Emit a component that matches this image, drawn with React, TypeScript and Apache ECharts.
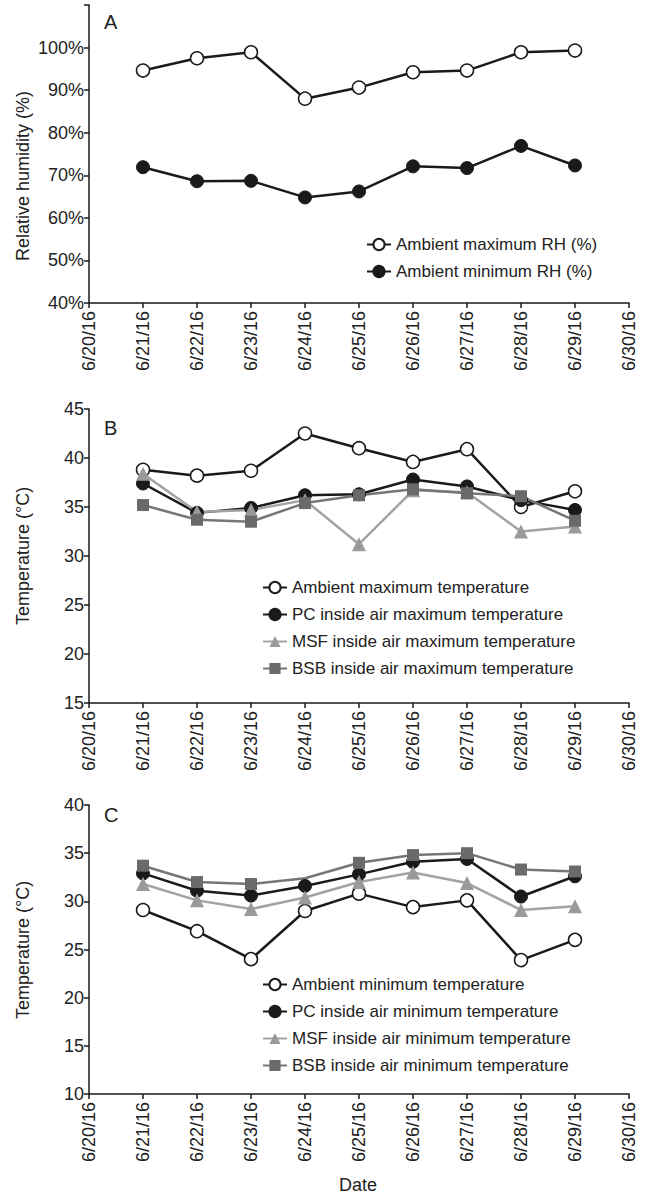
import React, { useEffect, useRef } from 'react';
import * as echarts from 'echarts';

const dates = ['6/20/16', '6/21/16', '6/22/16', '6/23/16', '6/24/16', '6/25/16', '6/26/16', '6/27/16', '6/28/16', '6/29/16', '6/30/16'];

// Panel A – relative humidity (%)
const rhMax = [null, 94.6, 97.5, 98.9, 88.0, 90.6, 94.2, 94.6, 98.9, 99.3, null];
const rhMin = [null, 71.9, 68.6, 68.7, 64.8, 66.2, 72.1, 71.7, 76.9, 72.3, null];

// Panel B – maximum temperatures (°C)
const maxAmbient = [null, 38.8, 38.2, 38.7, 42.5, 41.0, 39.6, 40.9, 35.0, 36.6, null];
const maxPC = [null, 37.4, 34.4, 34.9, 36.2, 36.3, 37.8, 37.1, 35.7, 34.7, null];
const maxMSF = [null, 38.4, 34.5, 34.7, 35.7, 31.2, 36.7, 36.5, 32.5, 33.0, null];
const maxBSB = [null, 35.2, 33.7, 33.5, 35.4, 36.2, 36.8, 36.4, 36.1, 33.6, null];

// Panel C – minimum temperatures (°C)
const minAmbient = [null, 29.1, 26.9, 24.0, 29.0, 30.8, 29.4, 30.1, 23.9, 26.0, null];
const minPC = [null, 32.9, 31.1, 30.6, 31.6, 32.8, 34.1, 34.4, 30.5, 32.6, null];
const minMSF = [null, 31.8, 30.1, 29.2, 30.4, 32.0, 33.0, 31.9, 29.1, 29.5, null];
const minBSB = [null, 33.7, 32.0, 31.8, 32.4, 34.0, 34.8, 35.0, 33.3, 33.1, null];
const minBSBHiddenMarker = 4; // no marker drawn at 6/24/16 in the original

const FONT = '"Liberation Sans", Arial, Helvetica, sans-serif';
const INK = '#1a1a1a';

type Kind = 'open' | 'filled' | 'msf' | 'bsb';

function styleFor(kind: Kind) {
  switch (kind) {
    case 'open':
      return {
        symbol: 'circle', symbolSize: 13,
        itemStyle: { color: '#ffffff', borderColor: INK, borderWidth: 1.5 },
        lineStyle: { color: INK, width: 2.5 },
      };
    case 'filled':
      return {
        symbol: 'circle', symbolSize: 13,
        itemStyle: { color: INK, borderColor: INK, borderWidth: 1 },
        lineStyle: { color: INK, width: 2.5 },
      };
    case 'msf':
      return {
        symbol: 'triangle', symbolSize: 14,
        itemStyle: { color: '#9a9a9a', borderWidth: 0 },
        lineStyle: { color: '#a3a3a3', width: 2.5 },
      };
    default:
      return {
        symbol: 'rect', symbolSize: 12,
        itemStyle: { color: '#6a6a6a', borderWidth: 0 },
        lineStyle: { color: '#767676', width: 2.5 },
      };
  }
}

function mk(name: string, data: any[], idx: number, kind: Kind) {
  return {
    type: 'line',
    name,
    data,
    xAxisIndex: idx,
    yAxisIndex: idx,
    showAllSymbol: true,
    ...styleFor(kind),
    emphasis: { disabled: true },
  };
}

const xAxisBase = (gridIndex: number) => ({
  type: 'category',
  gridIndex,
  data: dates,
  boundaryGap: false,
  axisLine: { lineStyle: { color: INK, width: 1.5 } },
  axisTick: { show: true, alignWithLabel: true, length: 5, lineStyle: { color: INK, width: 1.5 } },
  axisLabel: { rotate: 90, fontSize: 18, color: '#222', fontFamily: FONT, margin: 8, interval: 0 },
  splitLine: { show: false },
});

const yAxisBase = (gridIndex: number, min: number, max: number, interval: number, pct: boolean) => ({
  type: 'value',
  gridIndex,
  min,
  max,
  interval,
  axisLine: { show: true, lineStyle: { color: INK, width: 1.5 } },
  axisTick: { show: true, length: 5, lineStyle: { color: INK, width: 1.5 } },
  axisLabel: {
    fontSize: 18, color: '#222', fontFamily: FONT, margin: 5,
    formatter: pct ? (v: number) => (v > 100 ? '' : v + '%') : (v: number) => String(v),
  },
  splitLine: { show: false },
});

const legendBase = (names: string[], left: number, top: number) => ({
  data: names,
  orient: 'vertical',
  left,
  top,
  itemWidth: 24,
  itemHeight: 14,
  itemGap: 10,
  selectedMode: false,
  textStyle: { fontSize: 17, color: '#222', fontFamily: FONT },
});

const legA = ['Ambient maximum RH (%)', 'Ambient minimum RH (%)'];
const legB = ['Ambient maximum temperature', 'PC inside air maximum temperature', 'MSF inside air maximum temperature', 'BSB inside air maximum temperature'];
const legC = ['Ambient minimum temperature', 'PC inside air minimum temperature', 'MSF inside air minimum temperature', 'BSB inside air minimum temperature'];

export default function App() {
  const ref = useRef<HTMLDivElement>(null);
  useEffect(() => {
    if (!ref.current) return;
    const chart = echarts.init(ref.current, null, { renderer: 'svg' });
    const minBSBData = minBSB.map((v, i) => (i === minBSBHiddenMarker ? { value: v, symbol: 'none' } : v));
    const titleStyle = { fill: '#222', fontSize: 18, fontFamily: FONT, align: 'center', verticalAlign: 'middle' };
    chart.setOption({
      animation: false,
      backgroundColor: '#ffffff',
      textStyle: { fontFamily: FONT },
      grid: [
        { left: 89, right: 20, top: 5, bottom: 1198 - 303 },
        { left: 89, right: 20, top: 409, bottom: 1198 - 703 },
        { left: 89, right: 20, top: 805, bottom: 1198 - 1094 },
      ],
      xAxis: [xAxisBase(0), xAxisBase(1), xAxisBase(2)],
      yAxis: [
        yAxisBase(0, 40, 110, 10, true),
        yAxisBase(1, 15, 45, 5, false),
        yAxisBase(2, 10, 40, 5, false),
      ],
      legend: [
        legendBase(legA, 361, 231),
        legendBase(legB, 257, 574),
        legendBase(legC, 257, 971),
      ],
      series: [
        mk(legA[0], rhMax, 0, 'open'),
        mk(legA[1], rhMin, 0, 'filled'),
        mk(legB[0], maxAmbient, 1, 'open'),
        mk(legB[1], maxPC, 1, 'filled'),
        mk(legB[2], maxMSF, 1, 'msf'),
        mk(legB[3], maxBSB, 1, 'bsb'),
        mk(legC[0], minAmbient, 2, 'open'),
        mk(legC[1], minPC, 2, 'filled'),
        mk(legC[2], minMSF, 2, 'msf'),
        mk(legC[3], minBSBData, 2, 'bsb'),
      ],
      graphic: [
        { type: 'text', left: 104, top: 12, style: { text: 'A', fill: '#222', fontSize: 20, fontFamily: FONT } },
        { type: 'text', left: 104, top: 418, style: { text: 'B', fill: '#222', fontSize: 20, fontFamily: FONT } },
        { type: 'text', left: 104, top: 805, style: { text: 'C', fill: '#222', fontSize: 20, fontFamily: FONT } },
        { type: 'text', x: 23, y: 176, rotation: Math.PI / 2, style: { ...titleStyle, text: 'Relative humidity (%)' } },
        { type: 'text', x: 23, y: 556, rotation: Math.PI / 2, style: { ...titleStyle, text: 'Temperature (°C)' } },
        { type: 'text', x: 23, y: 950, rotation: Math.PI / 2, style: { ...titleStyle, text: 'Temperature (°C)' } },
        { type: 'text', x: 358, y: 1185, style: { ...titleStyle, text: 'Date' } },
      ],
    });
    return () => chart.dispose();
  }, []);
  return (
    <div
      ref={ref}
      style={{ position: 'absolute', left: 0, top: 0, width: 649, height: 1198, background: '#ffffff' }}
    />
  );
}
